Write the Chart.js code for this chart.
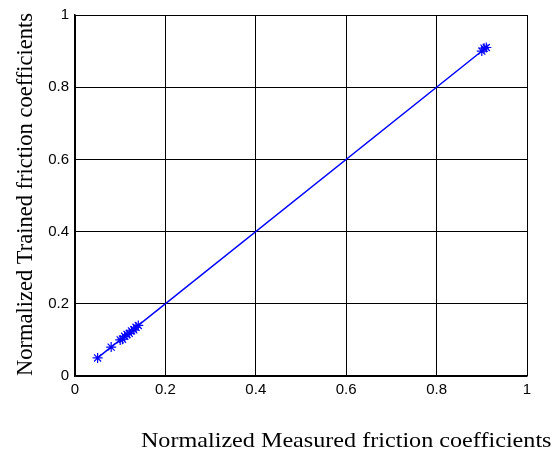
<!DOCTYPE html>
<html>
<head>
<meta charset="utf-8">
<script src="https://cdn.jsdelivr.net/npm/chart.js@4/dist/chart.umd.min.js"></script>
<style>
  html, body { margin: 0; padding: 0; background: #fff; }
  #wrap { width: 560px; height: 456px; }
</style>
</head>
<body>
<div id="wrap"><canvas id="chart" width="560" height="456"></canvas></div>
<script>
// values
const measured = [0.05, 0.08, 0.10, 0.105, 0.11, 0.115, 0.12, 0.125, 0.13, 0.135, 0.14, 0.90, 0.905, 0.91];
const trained  = [0.05, 0.08, 0.10, 0.102, 0.11, 0.115, 0.118, 0.125, 0.128, 0.135, 0.14, 0.90, 0.908, 0.91];
const fitX = [0.05, 0.91];
const fitY = [0.05, 0.91];
const xTicks = [0, 0.2, 0.4, 0.6, 0.8, 1];
const yTicks = [0, 0.2, 0.4, 0.6, 0.8, 1];
const xTitle = 'Normalized Measured friction coefficients';
const yTitle = 'Normalized Trained friction coefficients';

const blue = '#0000ff';
const tickFont = { family: '"Liberation Sans", Arial, sans-serif', size: 15 };

// axis titles drawn by hand: the x title sits right of centre and is a bit wide
const axisTitles = {
    id: 'axisTitles',
    afterDraw(chart) {
        const ctx = chart.ctx;
        const area = chart.chartArea;
        ctx.save();
        ctx.fillStyle = '#000';
        ctx.textAlign = 'center';
        ctx.textBaseline = 'alphabetic';

        ctx.save();
        ctx.font = '21px "Liberation Serif", "Times New Roman", serif';
        ctx.translate(area.left + area.width * 0.6, 447);
        ctx.scale(1.15, 1);
        ctx.fillText(xTitle, 0, 0);
        ctx.restore();

        ctx.font = '22.5px "Liberation Serif", "Times New Roman", serif';
        ctx.translate(32, (area.top + area.bottom) / 2 - 1);
        ctx.rotate(-Math.PI / 2);
        ctx.fillText(yTitle, 0, 0);
        ctx.restore();
    }
};

new Chart(document.getElementById('chart'), {
    type: 'scatter',
    data: {
        datasets: [
            {
                type: 'line',
                data: fitX.map((x, i) => ({ x: x, y: fitY[i] })),
                borderColor: blue,
                borderWidth: 1.5,
                pointRadius: 0,
                fill: false
            },
            {
                data: measured.map((x, i) => ({ x: x, y: trained[i] })),
                pointStyle: 'star',
                pointRadius: 5,
                borderColor: blue,
                backgroundColor: blue,
                pointBorderWidth: 1.2
            }
        ]
    },
    options: {
        responsive: false,
        animation: false,
        layout: { padding: { left: 0, top: 11, right: 33, bottom: 0 } },
        plugins: {
            legend: { display: false },
            tooltip: { enabled: false }
        },
        scales: {
            x: {
                type: 'linear',
                min: 0,
                max: 1,
                afterFit(scale) { scale.height = 80; },
                afterBuildTicks(scale) { scale.ticks = xTicks.map(v => ({ value: v })); },
                grid: { color: '#000', lineWidth: 1, drawTicks: false },
                border: { color: '#000', width: 1.5 },
                ticks: { color: '#000', font: tickFont, padding: 5, maxRotation: 0, callback: v => String(v) }
            },
            y: {
                type: 'linear',
                min: 0,
                max: 1,
                afterFit(scale) { scale.width = 75; },
                afterBuildTicks(scale) { scale.ticks = yTicks.map(v => ({ value: v })); },
                grid: { color: '#000', lineWidth: 1, drawTicks: false },
                border: { color: '#000', width: 1.5 },
                ticks: { color: '#000', font: tickFont, padding: 6, callback: v => String(v) }
            }
        }
    },
    plugins: [axisTitles]
});
</script>
</body>
</html>
